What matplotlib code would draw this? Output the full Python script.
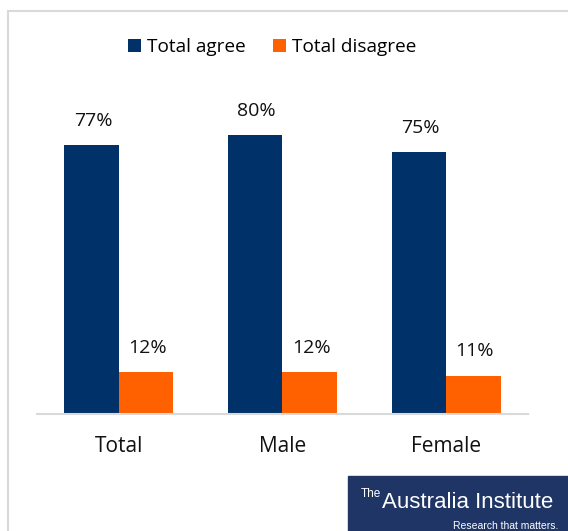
"""Agree / disagree by gender - grouped bar chart."""
import matplotlib
matplotlib.use("Agg")
import matplotlib.pyplot as plt
import numpy as np
from matplotlib.patches import Rectangle

plt.rcParams["font.family"] = ["Open Sans", "DejaVu Sans"]

categories = ["Total", "Male", "Female"]
agree = [77, 80, 75]
disagree = [12, 12, 11]
series_names = ["Total agree", "Total disagree"]
NAVY = "#003169"
ORANGE = "#FF6000"

fig = plt.figure(figsize=(5.68, 5.31), dpi=100)
ax = fig.add_axes([0.0651, 0.2203, 0.8645, 0.5913])

x = np.arange(len(categories))
w = 0.333
b1 = ax.bar(x - w / 2, agree, w, color=NAVY, label=series_names[0])
b2 = ax.bar(x + w / 2, disagree, w, color=ORANGE, label=series_names[1])

for bars, vals in ((b1, agree), (b2, disagree)):
    for r, v in zip(bars, vals):
        ax.annotate(f"{v}%", (r.get_x() + r.get_width() / 2, r.get_height()),
                    xytext=(1, 11), textcoords="offset points",
                    ha="center", va="bottom", fontsize=14, color="#111111")

ax.set_xlim(-0.5, 2.5)
ax.set_ylim(0, 90)
ax.set_xticks(x)
ax.set_xticklabels(categories, fontsize=15, color="#111111")
ax.tick_params(axis="x", length=0, pad=16)
ax.set_yticks([])
for s in ("left", "right", "top"):
    ax.spines[s].set_visible(False)
ax.spines["bottom"].set_color("#d9d9d9")
ax.spines["bottom"].set_linewidth(1.5)

fig.legend(loc="center", bbox_to_anchor=(272 / 568, 1 - 47 / 531), ncol=2,
           frameon=False, fontsize=13.7, handlelength=0.7, handleheight=0.7,
           handletextpad=0.3, columnspacing=1.4)

# outer chart border (partly cut off at right/bottom)
fig.patches.append(Rectangle((7.5 / 568, -0.1), 1.2, 1 - 10.5 / 531 + 0.1,
                             transform=fig.transFigure, fill=False,
                             edgecolor="#d9d9d9", linewidth=1.5))

# logo block
fig.patches.append(Rectangle((348 / 568, 0), 1, 55 / 531,
                             transform=fig.transFigure, color="#1f3566", zorder=5))
fig.text(361 / 568, 1 - 497 / 531, "The", color="white", fontsize=8.5,
         va="baseline", ha="left", zorder=6, family="Liberation Sans")
fig.text(382 / 568, 1 - 508 / 531, "Australia Institute", color="white", fontsize=16,
         va="baseline", ha="left", zorder=6, family="Liberation Sans")
fig.text(558 / 568, 1 - 529 / 531, "Research that matters.", color="white", fontsize=7.5,
         va="baseline", ha="right", zorder=6, family="Liberation Sans")

fig.savefig("out.png", dpi=100)
